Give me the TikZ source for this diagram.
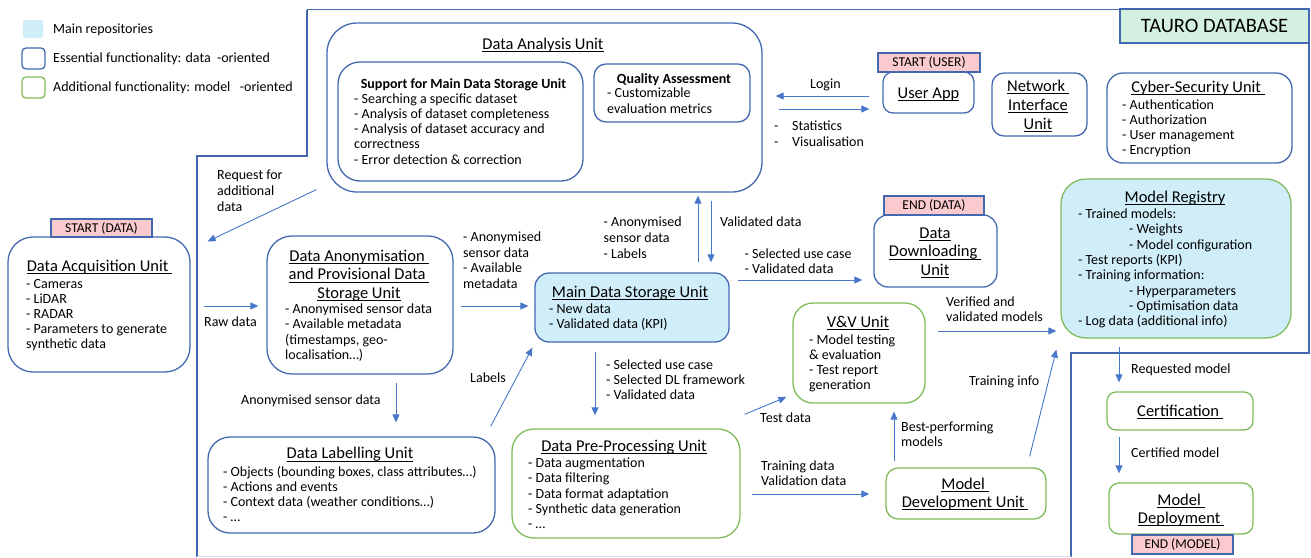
\documentclass[tikz,border=0pt]{standalone}
\usepackage{fontspec}
\setmainfont{Carlito}
\usetikzlibrary{arrows.meta,calc}
\definecolor{bblue}{RGB}{68,104,176}
\definecolor{ggreen}{RGB}{128,186,90}
\definecolor{lblue}{RGB}{208,238,250}
\definecolor{pinkc}{RGB}{250,202,206}
\definecolor{tgreen}{RGB}{212,240,224}
\definecolor{ablue}{RGB}{72,118,200}
\newcommand\ulx[1]{\setbox0\hbox{#1}\rlap{\rule[-3pt]{\wd0}{0.8pt}}\box0}
\tikzset{
  bx/.style={draw=bblue, line width=1.3pt, inner sep=0pt, rounded corners=#1},
  bx/.default=14pt,
  gbx/.style={draw=ggreen, line width=1.3pt, inner sep=0pt, rounded corners=#1},
  gbx/.default=14pt,
  txt/.style={inner sep=0pt, anchor=base west, align=left, font=\fontsize{14}{15.3}\selectfont},
  ttl/.style={inner sep=0pt, anchor=base, align=center, font=\fontsize{16.5}{18.5}\selectfont},
  tag/.style={draw=bblue, fill=pinkc, line width=1.2pt, inner sep=0pt, font=\fontsize{13.5}{15}\selectfont},
  arr/.style={draw=ablue, line width=0.9pt, -{Triangle[length=8pt,width=7pt]}},
  bound/.style={draw=bblue, line width=1.6pt},
}
\begin{document}
\begin{tikzpicture}[x=1pt,y=-1pt]
\useasboundingbox (0,0) rectangle (1311,557);

% legend
\node[fill=lblue, rounded corners=2pt, minimum width=20pt, minimum height=18pt, inner sep=0] (legA) at (33,29) {};
\node[bx=4pt, minimum width=23pt, minimum height=21pt] (legB) at (33.5,58.5) {};
\node[gbx=4pt, minimum width=23pt, minimum height=21pt] (legC) at (33.5,87.5) {};
\node[txt] (legAt) at (53,33.5) {Main repositories};
\node[txt] (legBt) at (53,62.5) {Essential functionality: data\ \ -oriented};
\node[txt] (legCt) at (53,91.5) {Additional functionality: model\ \ \ -oriented};

% TAURO boundary
\draw[bound] (307,9.5) -- (1309,9.5) -- (1309,353) -- (1071,353) -- (1071,557);
\draw[bound] (307,9.5) -- (307,156) -- (197,156) -- (197,557);
\draw[draw=bblue!22, line width=1pt] (197,556.5) -- (1071,556.5);
\node[draw=bblue, fill=tgreen, line width=1.3pt, minimum width=189pt, minimum height=34pt, inner sep=0, font=\fontsize{20.5}{22}\selectfont] (tauro) at (1214.5,26) {TAURO DATABASE};

% Data Analysis Unit
\node[bx=30pt, minimum width=435pt, minimum height=169pt] (da) at (544.5,107.5) {};
\node[ttl] (dat) at (543,49) {\ulx{Data Analysis Unit}};
\node[bx=22pt, minimum width=245pt, minimum height=119pt] (sup) at (460.5,121.5) {};
\node[ttl, font=\fontsize{14}{15}\selectfont\bfseries] (supt) at (463.5,88) {Support for Main Data Storage Unit};
\node[txt] (supl) at (354,164.2) {- Searching a specific dataset\\- Analysis of dataset completeness\\- Analysis of dataset accuracy and\\correctness\\- Error detection \& correction};
\node[bx=12pt, minimum width=156pt, minimum height=58pt] (qa) at (672,93) {};
\node[ttl, font=\fontsize{14}{15}\selectfont\bfseries] (qat) at (674,83) {Quality Assessment};
\node[txt, font=\fontsize{14}{15.5}\selectfont] (qal) at (607,113) {- Customizable\\evaluation metrics};

% User app etc.
\node[tag, minimum width=102pt, minimum height=19pt] (startuser) at (929,62.5) {START (USER)};
\node[bx=10pt, minimum width=91pt, minimum height=41pt] (userapp) at (928.5,92.5) {};
\node[ttl] (userappt) at (928.5,98) {\ulx{User App}};
\node[txt] (login) at (810,88) {Login};
\node[txt, font=\fontsize{14}{16.5}\selectfont] (statd) at (774,146.5) {-\\-};
\node[txt, font=\fontsize{14}{16.5}\selectfont] (stat) at (792,146.5) {Statistics\\Visualisation};
\node[bx=12pt, minimum width=95pt, minimum height=63pt] (net) at (1039.5,104.5) {};
\node[ttl, font=\fontsize{16.5}{19}\selectfont] (nett) at (1038,129) {\ulx{Network\ }\\\ulx{Interface}\\\ulx{Unit}};
\node[bx=16pt, minimum width=185pt, minimum height=90pt] (cyber) at (1199.5,118) {};
\node[ttl] (cybert) at (1198,92) {\ulx{Cyber-Security Unit\ }};
\node[txt, font=\fontsize{14}{15}\selectfont] (cyberl) at (1122,154.5) {- Authentication\\- Authorization\\- User management\\- Encryption};

% Model registry branch
\node[gbx=25pt, fill=lblue, minimum width=230pt, minimum height=159pt] (reg) at (1176,258.5) {};
\node[ttl] (regt) at (1175,202) {\ulx{Model Registry}};
\node[txt] (regl) at (1078,325.6) {- Trained models:\\\hspace*{51pt}- Weights\\\hspace*{51pt}- Model configuration\\- Test reports (KPI)\\- Training information:\\\hspace*{51pt}- Hyperparameters\\\hspace*{51pt}- Optimisation data\\- Log data (additional info)};
\node[gbx=9pt, minimum width=146pt, minimum height=38pt] (cert) at (1180,411) {};
\node[ttl] (certt) at (1180,416) {\ulx{Certification\ }};
\node[gbx=10pt, minimum width=144pt, minimum height=51pt] (dep) at (1181,508.5) {};
\node[ttl, font=\fontsize{16.5}{18}\selectfont] (dept) at (1181,523) {\ulx{Model\ }\\\ulx{Deployment\ }};
\node[tag, minimum width=101pt, minimum height=19pt] (endmodel) at (1182.5,544.5) {END (MODEL)};
\node[txt] (reqm) at (1131,373.5) {Requested model};
\node[txt] (certm) at (1131,457.5) {Certified model};

% Acquisition
\node[tag, minimum width=101pt, minimum height=18pt] (startdata) at (101.5,228) {START (DATA)};
\node[bx=25pt, minimum width=182pt, minimum height=135pt] (acq) at (99,304.5) {};
\node[ttl] (acqt) at (99.5,271) {\ulx{Data Acquisition Unit\ }};
\node[txt, font=\fontsize{14}{15}\selectfont] (acql) at (26,348) {- Cameras\\- LiDAR\\- RADAR\\- Parameters to generate\\synthetic data};
\node[txt, font=\fontsize{14}{16.3}\selectfont] (reqt) at (217,211.6) {Request for\\additional\\data};
\node[txt] (rawt) at (204,326.5) {Raw data};

% Anonymisation
\node[bx=25pt, minimum width=186pt, minimum height=138pt] (anon) at (360,305) {};
\node[ttl] (anont) at (359,298) {\ulx{Data Anonymisation\ }\\\ulx{and Provisional Data\ }\\\ulx{Storage Unit}};
\node[txt] (anonl) at (285,359.4) {- Anonymised sensor data\\- Available metadata\\(timestamps, geo-\\localisation…)};
\node[txt, font=\fontsize{14}{15.7}\selectfont] (anonside) at (463,288.6) {- Anonymised\\sensor data\\- Available\\metadata};

% Main data storage
\node[bx=14pt, fill=lblue, minimum width=194pt, minimum height=69pt] (mdsu) at (632,307.5) {};
\node[ttl] (mdsut) at (630,297) {\ulx{Main Data Storage Unit}};
\node[txt, font=\fontsize{14}{15}\selectfont] (mdsul) at (549,328.5) {- New data\\- Validated data (KPI)};
\node[txt, font=\fontsize{14}{16}\selectfont] (upt) at (603.5,258.5) {- Anonymised\\sensor data\\- Labels};
\node[txt] (downt) at (720,226.5) {Validated data};
\node[txt, font=\fontsize{14}{15}\selectfont] (dlt) at (744.5,273.5) {- Selected use case\\- Validated data};

% Downloading
\node[tag, minimum width=100pt, minimum height=19pt] (enddata) at (934,205.5) {END (DATA)};
\node[bx=14pt, minimum width=123pt, minimum height=72pt] (dl) at (935.5,251) {};
\node[ttl] (dlu) at (935,275) {\ulx{Data}\\\ulx{Downloading\ }\\\ulx{Unit}};

% V&V
\node[gbx=20pt, minimum width=132pt, minimum height=100pt] (vv) at (859,353) {};
\node[ttl] (vvt) at (858,327) {\ulx{V\&V Unit}};
\node[txt, font=\fontsize{14}{15}\selectfont] (vvl) at (809,389.5) {- Model testing\\\& evaluation\\- Test report\\generation};
\node[txt, font=\fontsize{14}{14.5}\selectfont] (vert) at (946,321) {Verified and\\validated models};
\node[txt] (trit) at (969,385.5) {Training info};

% Model development
\node[gbx=12pt, minimum width=160pt, minimum height=51pt] (mdev) at (966,493.5) {};
\node[ttl, font=\fontsize{16.5}{18}\selectfont] (mdevt) at (965,507) {\ulx{Model\ }\\\ulx{Development Unit\ }};
\node[txt, font=\fontsize{14}{15}\selectfont] (bestt) at (901,446.5) {Best-performing\\models};
\node[txt] (testt) at (760,422.5) {Test data};
\node[txt, font=\fontsize{14}{14.5}\selectfont] (trdt) at (761,485) {Training data\\Validation data};

% Pre-processing
\node[gbx=22pt, minimum width=228pt, minimum height=109pt] (prep) at (626,483.5) {};
\node[ttl] (prept) at (624,451) {\ulx{Data Pre-Processing Unit}};
\node[txt] (prepl) at (528,528.7) {- Data augmentation\\- Data filtering\\- Data format adaptation\\- Synthetic data generation\\- …};
\node[txt, font=\fontsize{14}{15}\selectfont] (selt) at (606,399.5) {- Selected use case\\- Selected DL framework\\- Validated data};

% Labelling
\node[bx=22pt, minimum width=287pt, minimum height=96pt] (lab) at (351.5,485) {};
\node[ttl] (labt) at (350,458.5) {\ulx{Data Labelling Unit}};
\node[txt, font=\fontsize{14}{15}\selectfont] (labl) at (223,521.5) {- Objects (bounding boxes, class attributes…)\\- Actions and events\\- Context data (weather conditions…)\\- …};
\node[txt] (anlt) at (241,404) {Anonymised sensor data};
\node[txt] (labelst) at (470,382.5) {Labels};

% connectors
\draw[arr] ($(da.south west)+(-10,-3)$) -- ($(acq.north east)+(17,5)$);
\draw[arr] ($(acq.east)+(13,1.5)$) -- ($(anon.west)+(-8,1)$);
\draw[arr] ($(anon.east)+(7,1)$) -- ($(mdsu.west)+(-6,-1.5)$);
\draw[arr] ($(mdsu.north)+(66,-10)$) -- ($(da.south)+(153.5,3)$);
\draw[arr] ($(da.south)+(166.5,8)$) -- ($(mdsu.north)+(79,-10)$);
\draw[arr] ($(mdsu.east)+(8,-27.5)$) -- ($(dl.west)+(-11,29)$);
\draw[arr] ($(userapp.west)+(-13,3.5)$) -- ($(da.east)+(13,-11.5)$);
\draw[arr] ($(da.east)+(16,1.5)$) -- ($(userapp.west)+(-13,16.5)$);
\draw[arr] ($(vv.east)+(12,-22)$) -- ($(reg.west)+(-4,72.5)$);
\draw[arr] ($(mdev.north east)+(-17,-11)$) -- ($(reg.south west)+(-4,11)$);
\draw[arr] ($(mdev.north)+(-72,-6)$) -- ($(vv.south)+(35,8)$);
\draw[arr] ($(prep.north east)+(4,-14)$) -- ($(vv.west)+(-6,44)$);
\draw[arr] ($(prep.east)+(11,10.5)$) -- ($(mdev.west)+(-16,0.5)$);
\draw[arr] ($(mdsu.south)+(-37,9)$) -- ($(prep.north)+(-31,-13)$);
\draw[arr] ($(anon.south)+(36,8)$) -- ($(lab.north)+(44.5,-14)$);
\draw[arr] ($(lab.north east)+(-5,-10)$) -- ($(mdsu.south west)+(-2,5)$);
\draw[arr] ($(reg.south)+(-57,8)$) -- ($(cert.north)+(-61,-9)$);
\draw[arr] ($(cert.south)+(-61,6)$) -- ($(dep.north)+(-62,-9)$);
\end{tikzpicture}
\end{document}
